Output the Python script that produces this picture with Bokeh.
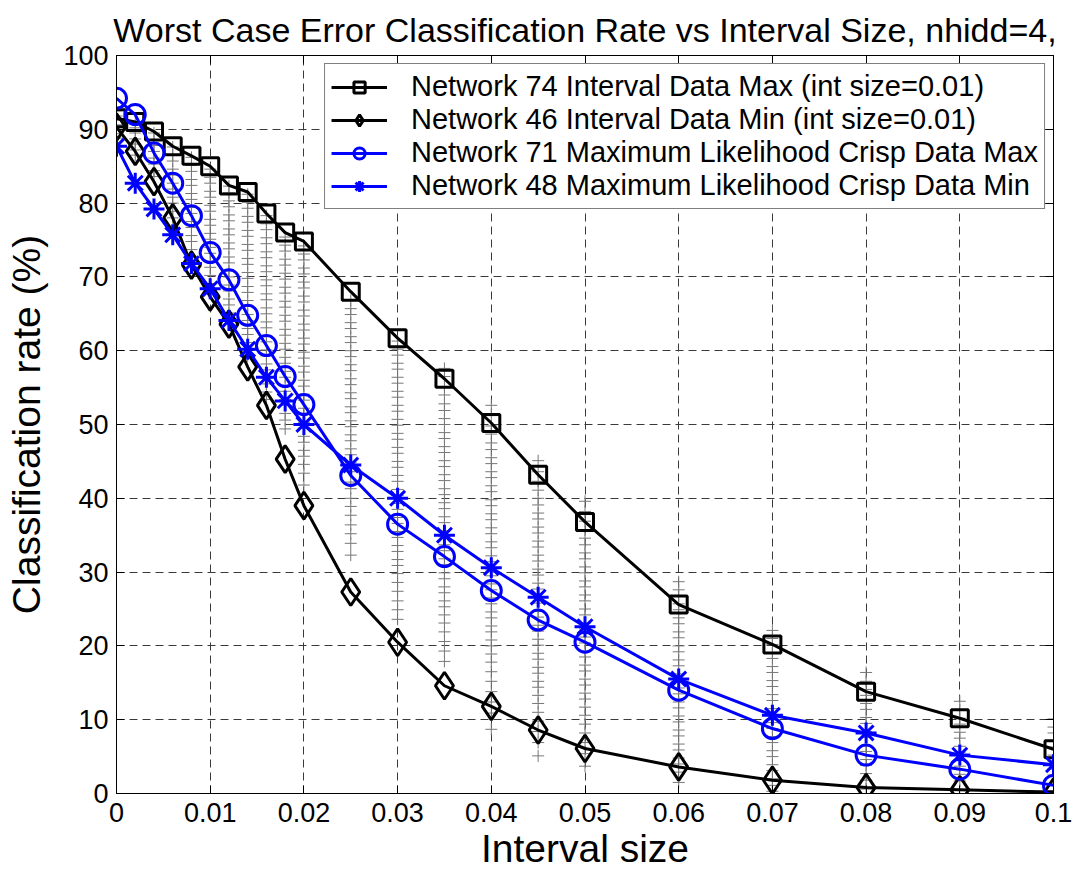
from bokeh.plotting import figure
from bokeh.models import Legend, LegendItem, FixedTicker, LinearAxis, Range1d
from bokeh.embed import file_html
from bokeh.resources import INLINE

# ---------------- data ----------------
interval_size = [0.000, 0.002, 0.004, 0.006, 0.008, 0.010, 0.012, 0.014, 0.016, 0.018,
                 0.020, 0.025, 0.030, 0.035, 0.040, 0.045, 0.050, 0.060, 0.070, 0.080,
                 0.090, 0.100]

net74_interval_max = [91.5, 91.0, 89.7, 87.7, 86.4, 85.0, 82.4, 81.5, 78.6, 76.0,
                      74.8, 68.0, 61.7, 56.2, 50.2, 43.2, 36.8, 25.6, 20.2, 13.8,
                      10.2, 6.0]
net46_interval_min = [90.3, 87.0, 82.9, 78.0, 71.6, 67.3, 63.6, 57.8, 52.6, 45.3,
                      39.0, 27.3, 20.5, 14.6, 11.8, 8.6, 6.1, 3.6, 1.8, 0.8,
                      0.5, 0.2]
net71_ml_max = [94.2, 92.0, 86.8, 82.7, 78.3, 73.3, 69.6, 64.8, 60.7, 56.5,
                52.7, 43.1, 36.5, 32.1, 27.5, 23.5, 20.5, 14.0, 8.8, 5.2,
                3.3, 1.1]
net48_ml_min = [87.7, 82.7, 79.2, 75.7, 71.8, 68.4, 64.1, 60.2, 56.4, 53.2,
                50.0, 44.5, 40.0, 35.0, 30.6, 26.6, 22.6, 15.5, 10.6, 8.2,
                5.2, 3.9]

# classification rates of all other networks (grey crosses), one list per interval size
cloud_000 = [92.5, 91.8, 91.2, 90.6, 90.0, 89.4, 88.8]
cloud_002 = [91.0, 90.2, 89.5, 88.7, 88.0, 87.2, 86.5]
cloud_004 = [89.5, 88.6, 87.8, 87.0, 86.1, 85.3, 84.4, 83.6]
cloud_006 = [87.6, 86.5, 85.7, 84.6, 83.8, 82.7, 81.9, 80.8, 80.0, 78.9, 78.0]
cloud_008 = [86.2, 85.1, 84.3, 83.2, 82.4, 81.3, 80.5, 79.4, 78.6, 77.5, 76.7, 75.6,
             74.8, 73.7, 72.6]
cloud_010 = [84.6, 83.5, 82.7, 81.6, 80.8, 79.7, 78.9, 77.8, 77.0, 75.9, 75.1, 74.0,
             73.2, 72.1, 71.3, 70.2, 69.1, 67.8]
cloud_012 = [82.3, 81.4, 80.3, 79.5, 78.4, 77.6, 76.5, 75.7, 74.6, 73.8, 72.7, 71.9,
             70.8, 70.0, 68.9, 68.1, 67.0, 66.2, 65.1, 64.0]
cloud_014 = [81.2, 80.1, 79.3, 78.2, 77.4, 76.3, 75.5, 74.4, 73.6, 72.5, 71.7, 70.6,
             69.8, 68.7, 67.9, 66.8, 66.0, 64.9, 64.1, 63.0, 62.2, 61.1, 60.2, 59.3]
cloud_016 = [78.3, 77.2, 76.4, 75.3, 74.5, 73.4, 72.6, 71.5, 70.7, 69.6, 68.8, 67.7,
             66.9, 65.8, 65.0, 63.9, 63.1, 62.0, 61.2, 60.1, 59.3, 58.2, 57.4, 56.3,
             55.5, 54.4, 53.4]
cloud_018 = [75.4, 74.3, 73.5, 72.4, 71.6, 70.5, 69.7, 68.6, 67.8, 66.7, 65.9, 64.8,
             64.0, 62.9, 62.1, 61.0, 60.2, 59.1, 58.3, 57.2, 56.4, 55.3, 54.5, 53.4,
             52.6, 51.5, 50.6, 49.4]
cloud_020 = [74.2, 73.1, 72.3, 71.2, 70.4, 69.3, 68.5, 67.4, 66.6, 65.5, 64.7, 63.6,
             62.8, 61.7, 60.9, 59.8, 59.0, 57.9, 57.1, 56.0, 55.2, 54.1, 53.3, 52.2,
             51.4, 50.3, 49.5, 48.4, 47.6, 46.5, 45.7, 44.6, 43.4, 41.8]
cloud_025 = [66.8, 65.7, 64.9, 63.8, 63.0, 61.9, 61.1, 60.0, 59.2, 58.1, 57.3, 56.2,
             55.4, 54.3, 53.5, 52.4, 51.6, 50.5, 49.7, 48.6, 47.8, 46.7, 45.9, 44.8,
             43.6, 42.2, 41.3, 40.0, 38.9, 37.7, 36.4, 35.2, 33.9, 32.3]
cloud_030 = [61.3, 60.2, 59.4, 58.3, 57.5, 56.4, 55.6, 54.5, 53.7, 52.6, 51.8, 50.7,
             49.9, 48.8, 48.0, 46.9, 46.1, 45.0, 44.2, 43.1, 42.3, 41.2, 40.4, 39.3,
             38.5, 37.4, 36.6, 35.5, 34.7, 33.6, 32.8, 31.7, 30.9, 29.8, 28.6, 27.4,
             26.1, 24.9, 23.6]
cloud_035 = [57.6, 56.5, 55.1, 54.0, 52.8, 51.9, 50.8, 50.0, 48.9, 48.1, 47.0, 46.2,
             45.1, 44.3, 43.2, 42.4, 41.3, 40.5, 39.4, 38.6, 37.5, 36.7, 35.6, 34.8,
             33.7, 32.9, 31.8, 31.0, 29.9, 29.1, 28.0, 27.2, 26.1, 25.3, 24.2, 23.1,
             21.9, 20.6, 19.3, 17.9]
cloud_040 = [52.6, 51.2, 49.8, 48.7, 47.5, 46.6, 45.5, 44.7, 43.6, 42.8, 41.7, 40.9,
             39.8, 39.0, 37.9, 37.1, 36.0, 35.2, 34.1, 33.3, 32.2, 31.4, 30.3, 29.5,
             28.4, 27.6, 26.5, 25.7, 24.6, 23.8, 22.7, 21.9, 20.8, 20.0, 18.9, 17.8,
             16.5, 15.2, 13.8, 12.4, 10.9, 8.7]
cloud_045 = [45.1, 43.6, 42.3, 41.1, 40.0, 39.1, 38.0, 37.2, 36.1, 35.3, 34.2, 33.4,
             32.3, 31.5, 30.4, 29.6, 28.5, 27.7, 26.6, 25.8, 24.7, 23.9, 22.8, 22.0,
             20.9, 20.1, 19.0, 18.2, 17.1, 16.3, 15.2, 14.4, 13.3, 12.2, 11.0, 9.8,
             8.4, 6.9, 5.1]
cloud_050 = [39.6, 38.2, 36.9, 35.7, 34.6, 33.7, 32.6, 31.8, 30.7, 29.9, 28.8, 28.0,
             26.9, 26.1, 25.0, 24.2, 23.1, 22.3, 21.2, 20.4, 19.3, 18.5, 17.4, 16.6,
             15.5, 14.7, 13.6, 12.8, 11.7, 10.6, 9.4, 8.2, 6.9, 5.4, 3.7]
cloud_060 = [28.7, 27.6, 26.8, 25.7, 24.9, 23.8, 23.0, 21.9, 21.1, 20.0, 19.2, 18.1,
             17.3, 16.2, 15.4, 14.3, 13.5, 12.4, 11.6, 10.5, 9.7, 8.6, 7.8, 6.7,
             5.9, 4.8, 4.0, 2.9, 1.5]
cloud_070 = [22.1, 21.0, 20.2, 19.1, 18.3, 17.2, 16.4, 15.3, 14.5, 13.4, 12.6, 11.5,
             10.7, 9.6, 8.8, 7.7, 6.9, 5.8, 5.0, 3.9, 3.1, 2.0, 1.1, 0.3]
cloud_080 = [16.4, 15.2, 14.1, 13.3, 12.2, 11.4, 10.3, 9.5, 8.4, 7.6, 6.5, 5.7,
             4.6, 3.8, 2.7, 1.8, 0.6]
cloud_090 = [12.5, 11.3, 10.2, 9.4, 8.3, 7.5, 6.4, 5.6, 4.5, 3.7, 2.6, 1.7, 0.5]
cloud_100 = [10.1, 9.0, 8.2, 7.1, 6.3, 5.2, 4.4, 3.3, 2.5, 1.4, 0.4]

clouds = [cloud_000, cloud_002, cloud_004, cloud_006, cloud_008, cloud_010, cloud_012,
          cloud_014, cloud_016, cloud_018, cloud_020, cloud_025, cloud_030, cloud_035,
          cloud_040, cloud_045, cloud_050, cloud_060, cloud_070, cloud_080, cloud_090,
          cloud_100]

x_ticks = [0.0, 0.01, 0.02, 0.03, 0.04, 0.05, 0.06, 0.07, 0.08, 0.09, 0.1]
x_tick_labels = ["0", "0.01", "0.02", "0.03", "0.04", "0.05", "0.06", "0.07", "0.08", "0.09", "0.1"]
y_ticks = [0, 10, 20, 30, 40, 50, 60, 70, 80, 90, 100]

series_labels = [
    "Network 74 Interval Data Max (int size=0.01)",
    "Network 46 Interval Data Min (int size=0.01)",
    "Network 71 Maximum Likelihood Crisp Data Max",
    "Network 48 Maximum Likelihood Crisp Data Min",
]

# ---------------- figure ----------------
SANS = "Liberation Sans"

p = figure(width=1072, height=872,
           x_range=Range1d(0, 0.1), y_range=Range1d(0, 100),
           output_backend="svg", toolbar_location=None,
           min_border_left=116, min_border_right=19,
           min_border_top=55, min_border_bottom=79,
           background_fill_color="white", border_fill_color="white")

p.title.text = "Worst Case Error Classification Rate vs Interval Size, nhidd=4,"
p.title.text_font = SANS
p.title.text_font_size = "34px"
p.title.text_font_style = "normal"
p.title.align = "center"
p.title.text_color = "black"
p.title.standoff = 14

p.outline_line_color = "black"
p.outline_line_width = 1

for g in (p.xgrid, p.ygrid):
    g.grid_line_color = "#3a3a3a"
    g.grid_line_dash = "8 5"
    g.grid_line_width = 1

p.xaxis.ticker = FixedTicker(ticks=x_ticks)
p.xaxis.major_label_overrides = {t: l for t, l in zip(x_ticks, x_tick_labels)}
p.yaxis.ticker = FixedTicker(ticks=y_ticks)
p.xgrid.ticker = FixedTicker(ticks=x_ticks)
p.ygrid.ticker = FixedTicker(ticks=y_ticks)

for ax in (p.xaxis[0], p.yaxis[0]):
    ax.axis_line_color = "black"
    ax.major_tick_in = 8
    ax.major_tick_out = 0
    ax.minor_tick_line_color = None
    ax.major_label_text_color = "black"
    ax.axis_label_text_color = "black"
    ax.axis_label_text_font_style = "normal"
    ax.major_label_text_font = SANS
    ax.major_label_text_font_size = "27px"
    ax.axis_label_text_font = SANS

p.xaxis.major_label_standoff = 9
p.xaxis.axis_label = "Interval size"
p.xaxis.axis_label_text_font_size = "39px"
p.xaxis.axis_label_standoff = 2

p.yaxis.major_label_standoff = 8
p.yaxis.axis_label = "Classification rate (%)"
p.yaxis.axis_label_text_font_size = "39px"
p.yaxis.axis_label_standoff = 12

# box ticks on top and right (no labels)
top_ax = LinearAxis(ticker=FixedTicker(ticks=x_ticks), major_label_text_font_size="0px",
                    major_label_text_color=None,
                    major_tick_in=8, major_tick_out=0, minor_tick_line_color=None,
                    axis_line_color="black", major_label_standoff=0)
right_ax = LinearAxis(ticker=FixedTicker(ticks=y_ticks), major_label_text_font_size="0px",
                      major_label_text_color=None,
                      major_tick_in=8, major_tick_out=0, minor_tick_line_color=None,
                      axis_line_color="black", major_label_standoff=0)
p.add_layout(top_ax, "above")
p.add_layout(right_ax, "right")

# grey crosses of all networks
cx, cy = [], []
for xv, vals in zip(interval_size, clouds):
    for v in vals:
        cx.append(xv)
        cy.append(v)
p.scatter(cx, cy, marker="cross", size=12, line_color="#777777", line_width=1)

# main series
r1l = p.line(interval_size, net74_interval_max, line_color="black", line_width=3)
r1m = p.scatter(interval_size, net74_interval_max, marker="square", size=17,
                line_color="black", line_width=3, fill_color=None)
r2l = p.line(interval_size, net46_interval_min, line_color="black", line_width=3)
r2m = p.scatter(interval_size, net46_interval_min, marker="diamond", size=27,
                line_color="black", line_width=3, fill_color=None)
r3l = p.line(interval_size, net71_ml_max, line_color="#0000ff", line_width=3)
r3m = p.scatter(interval_size, net71_ml_max, marker="circle", size=20,
                line_color="#0000ff", line_width=3, fill_color=None)
r4l = p.line(interval_size, net48_ml_min, line_color="#0000ff", line_width=3)
r4m = p.scatter(interval_size, net48_ml_min, marker="asterisk", size=21,
                line_color="#0000ff", line_width=3)

legend = Legend(items=[
    LegendItem(label=series_labels[0], renderers=[r1l, r1m]),
    LegendItem(label=series_labels[1], renderers=[r2l, r2m]),
    LegendItem(label=series_labels[2], renderers=[r3l, r3m]),
    LegendItem(label=series_labels[3], renderers=[r4l, r4m]),
], location="top_right")
legend.label_text_font = SANS
legend.label_text_font_size = "29px"
legend.label_text_color = "black"
legend.glyph_width = 56
legend.glyph_height = 28
legend.spacing = -3
legend.padding = 6
legend.margin = 8
legend.label_standoff = 24
legend.border_line_color = "black"
legend.border_line_width = 1
legend.background_fill_color = "white"
legend.background_fill_alpha = 1.0
p.add_layout(legend, "center")

open("out.html", "w").write(file_html(p, INLINE))
